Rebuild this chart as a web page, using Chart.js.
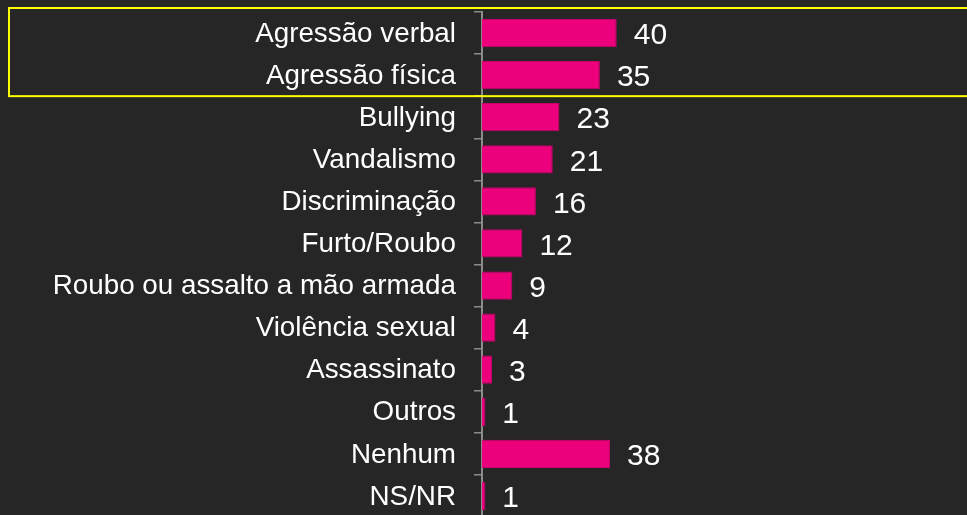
<!DOCTYPE html>
<html>
<head>
<meta charset="utf-8">
<script src="https://cdn.jsdelivr.net/npm/chart.js@4.4.1/dist/chart.umd.min.js"></script>
<style>
  html, body { margin: 0; padding: 0; background: #262626; overflow: hidden; }
  #wrap { position: relative; width: 967px; height: 517px; }
</style>
</head>
<body>
<div id="wrap"><canvas id="violencia"></canvas></div>
<script>
const categorias = [
  "Agressão verbal",
  "Agressão física",
  "Bullying",
  "Vandalismo",
  "Discriminação",
  "Furto/Roubo",
  "Roubo ou assalto a mão armada",
  "Violência sexual",
  "Assassinato",
  "Outros",
  "Nenhum",
  "NS/NR"
];
const valores = [40, 35, 23, 21, 16, 12, 9, 4, 3, 1, 38, 1];
// linhas destacadas pelo quadro amarelo
const destaque = [0, 1];

const rosa = "#EC007C";
const cinza = "#8C8C8C";
const fonte = "'Liberation Sans', Arial, sans-serif";

// rótulo com o valor ao lado de cada barra
const rotulosValor = {
  id: "rotulosValor",
  afterDatasetsDraw(chart) {
    const ctx = chart.ctx;
    const meta = chart.getDatasetMeta(0);
    ctx.save();
    ctx.fillStyle = "#FFFFFF";
    ctx.font = "30px " + fonte;
    ctx.textAlign = "left";
    ctx.textBaseline = "middle";
    meta.data.forEach((bar, i) => {
      ctx.fillText(String(valores[i]), bar.x + 17, bar.y + 3);
    });
    ctx.restore();
  }
};

// quadro amarelo em volta das primeiras categorias
const quadro = {
  id: "quadro",
  afterDraw(chart) {
    const y = chart.scales.y;
    const passo = y.getPixelForValue(1) - y.getPixelForValue(0);
    const topo = y.getPixelForValue(destaque[0]) - passo / 2 - 4;
    const base = y.getPixelForValue(destaque[destaque.length - 1]) + passo / 2;
    const ctx = chart.ctx;
    ctx.save();
    ctx.strokeStyle = "#FFFF00";
    ctx.lineWidth = 2;
    ctx.strokeRect(9, topo, chart.width + 10, base - topo);
    ctx.restore();
  }
};

new Chart(document.getElementById("violencia"), {
  type: "bar",
  data: {
    labels: categorias,
    datasets: [{
      data: valores,
      backgroundColor: rosa,
      borderColor: "#C8006A",
      borderWidth: 1,
      borderSkipped: "left",
      barPercentage: 0.67,
      categoryPercentage: 1
    }]
  },
  options: {
    indexAxis: "y",
    responsive: true,
    maintainAspectRatio: false,
    animation: false,
    layout: { padding: { top: 12, right: 0, bottom: 0, left: 0 } },
    plugins: {
      legend: { display: false },
      tooltip: { enabled: false }
    },
    scales: {
      x: {
        display: false,
        min: 0,
        max: 144
      },
      y: {
        afterFit(scale) {
          scale.width = 482;
          scale.paddingTop = 0;
          scale.paddingBottom = 0;
        },
        grid: {
          drawOnChartArea: false,
          drawTicks: true,
          tickLength: 8,
          color: cinza,
          lineWidth: 1.5
        },
        border: { display: true, color: cinza, width: 2 },
        ticks: {
          color: "#FFFFFF",
          padding: 18,
          labelOffset: 1,
          font: { family: fonte, size: 27.8 }
        }
      }
    }
  },
  plugins: [rotulosValor, quadro]
});
</script>
</body>
</html>
